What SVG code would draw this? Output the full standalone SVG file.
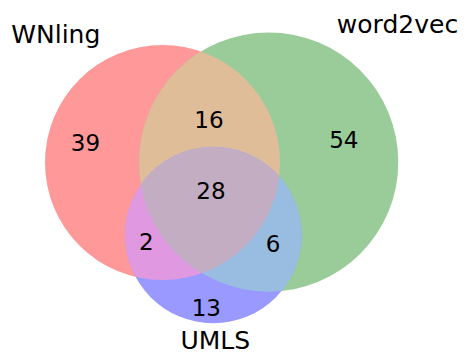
<svg xmlns="http://www.w3.org/2000/svg" width="467" height="354" viewBox="0 0 467 354">
<style>
text{font-family:"DejaVu Sans","Liberation Sans",sans-serif;fill:#000;text-anchor:middle}
.lbl{font-size:25px}
.num{font-size:23px}
</style>
<defs>
<clipPath id="cG"><circle cx="268.7" cy="162.1" r="129.6"/></clipPath>
<clipPath id="cB"><circle cx="213.3" cy="235" r="88.3"/></clipPath>
</defs>
<rect width="467" height="354" fill="#fff"/>
<g id="WNling">
<circle cx="162.5" cy="162.5" r="117.5" fill="#FF9999"/>
</g>
<g id="word2vec">
<circle cx="268.7" cy="162.1" r="129.6" fill="#99CC99"/>
</g>
<g id="UMLS">
<circle cx="213.3" cy="235" r="88.3" fill="#9999FF"/>
</g>
<g id="overlaps">
<g clip-path="url(#cG)"><circle cx="162.5" cy="162.5" r="117.5" fill="#E0BD99"/></g>
<g clip-path="url(#cB)"><circle cx="162.5" cy="162.5" r="117.5" fill="#E099E0"/></g>
<g clip-path="url(#cB)"><circle cx="268.7" cy="162.1" r="129.6" fill="#99BDE0"/></g>
<g clip-path="url(#cB)"><g clip-path="url(#cG)"><circle cx="162.5" cy="162.5" r="117.5" fill="#C2ADC2"/></g></g>
</g>
<g id="labels">
<text class="lbl" x="55.8" y="42.8">WNling</text>
<text class="lbl" x="397.5" y="33.3">word2vec</text>
<text class="lbl" x="215.3" y="349">UMLS</text>
</g>
<g id="counts">
<text class="num" x="85.5" y="150.8">39</text>
<text class="num" x="209" y="128.3">16</text>
<text class="num" x="343.8" y="148.3">54</text>
<text class="num" x="211" y="199.3">28</text>
<text class="num" x="146.3" y="250">2</text>
<text class="num" x="273" y="251.6">6</text>
<text class="num" x="206.3" y="315.5">13</text>
</g>
</svg>
